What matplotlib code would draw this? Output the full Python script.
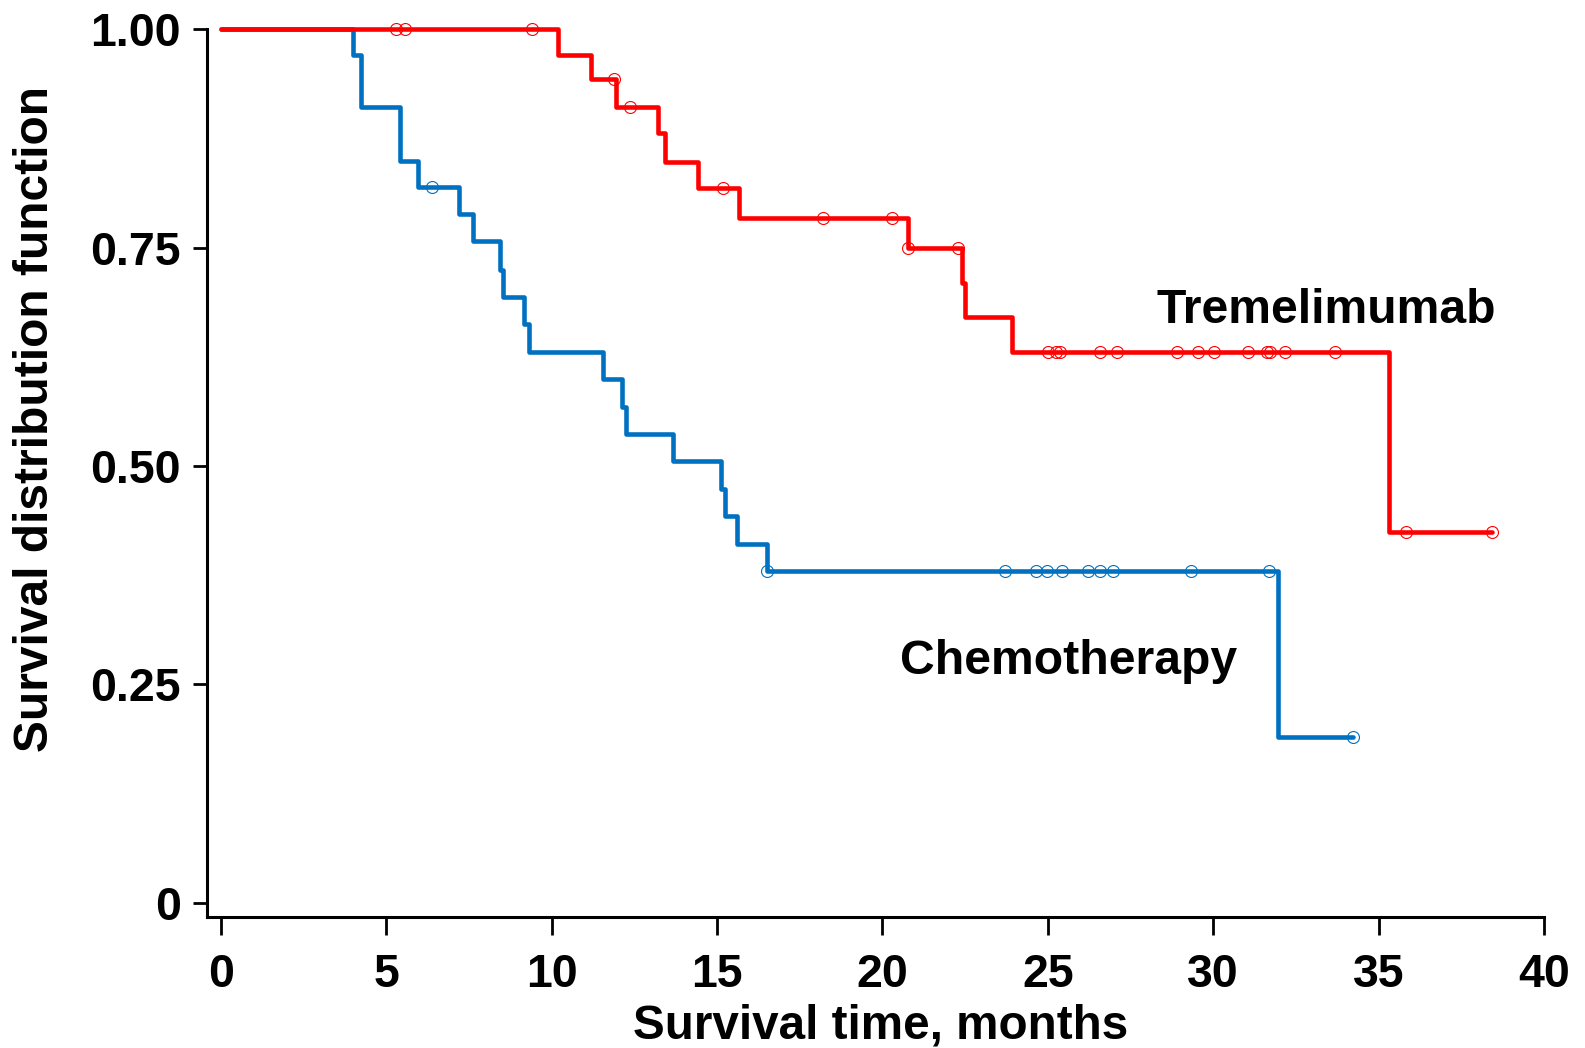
import numpy as np
import matplotlib
matplotlib.use("Agg")
import matplotlib.pyplot as plt

# ---- data ----
chemo_event_times = [4.0, 4.24, 5.41, 5.96, 7.21, 7.62, 8.43, 8.53, 9.17, 9.31,
                     11.56, 12.14, 12.26, 13.67, 15.11, 15.24, 15.59, 16.50, 31.95]
chemo_surv = [0.971, 0.911, 0.849, 0.819, 0.788, 0.757, 0.724, 0.694, 0.663, 0.631,
              0.600, 0.568, 0.537, 0.506, 0.474, 0.443, 0.411, 0.380, 0.190]
chemo_censor = [6.37, 16.50, 23.70, 24.64, 24.96, 25.43, 26.20, 26.57, 26.97,
                29.32, 31.69, 34.23]

trem_event_times = [10.18, 11.19, 11.93, 13.20, 13.42, 14.43, 15.67, 20.78,
                    22.39, 22.51, 23.92, 35.32]
trem_surv = [0.971, 0.943, 0.911, 0.881, 0.848, 0.818, 0.784, 0.749,
             0.709, 0.671, 0.630, 0.424]
trem_censor = [5.29, 5.57, 9.41, 11.89, 12.36, 15.17, 18.19, 20.30, 20.78, 22.27,
               25.01, 25.26, 25.36, 26.59, 27.08, 28.92, 29.54, 30.02, 31.04,
               31.63, 31.73, 32.16, 33.68, 35.84, 38.43]

x_ticks = [0, 5, 10, 15, 20, 25, 30, 35, 40]
y_ticks = [0, 0.25, 0.50, 0.75, 1.00]
y_ticklabels = ["0", "0.25", "0.50", "0.75", "1.00"]

RED = "#FF0000"
BLUE = "#0070C0"
FONT = ["Liberation Sans", "DejaVu Sans"]

plt.rcParams["font.family"] = FONT
plt.rcParams["font.weight"] = "bold"

fig = plt.figure(figsize=(15.85, 10.48), dpi=100)
ax = fig.add_axes([207 / 1585, 131 / 1048, (1544 - 207) / 1585, (917 - 29.3) / 1048])


def km_curve(times, surv, censor):
    end = max(max(times), max(censor))
    xs = [0.0] + list(times) + [end]
    ys = [1.0] + list(surv) + [surv[-1]]
    t = np.asarray(times)
    s = np.concatenate([[1.0], np.asarray(surv)])
    idx = np.searchsorted(t, np.asarray(censor), side="right")
    cy = s[idx]
    return xs, ys, cy


for times, surv, cens, col in [(chemo_event_times, chemo_surv, chemo_censor, BLUE),
                               (trem_event_times, trem_surv, trem_censor, RED)]:
    xs, ys, cy = km_curve(times, surv, cens)
    ax.step(xs, ys, where="post", color=col, lw=3.3, clip_on=False,
            solid_joinstyle="round", solid_capstyle="round", zorder=3)
    ax.plot(cens, cy, ls="none", marker="o", ms=8.6, mfc="none", mec=col,
            mew=0.8, clip_on=False, zorder=4)

ax.set_xlim(-0.42, 40)
ax.set_ylim(-0.0166, 1.0)
ax.set_xticks(x_ticks)
ax.set_xticklabels([str(v) for v in x_ticks])
ax.set_yticks(y_ticks)
ax.set_yticklabels(y_ticklabels)

for side in ["top", "right"]:
    ax.spines[side].set_visible(False)
for side in ["left", "bottom"]:
    ax.spines[side].set_linewidth(2.2)
    ax.spines[side].set_color("black")

ax.tick_params(axis="x", direction="out", length=13, width=2.0, pad=13,
               labelsize=33.5)
ax.tick_params(axis="y", direction="out", length=10, width=2.0, pad=9,
               labelsize=33.5)
for lab in ax.get_xticklabels() + ax.get_yticklabels():
    lab.set_fontweight("bold")

ax.text(28.3, 0.664, "Tremelimumab", fontsize=34.7, fontweight="bold",
        ha="left", va="baseline")
ax.text(20.53, 0.2617, "Chemotherapy", fontsize=34.7, fontweight="bold",
        ha="left", va="baseline")

fig.text(881 / 1585, 9 / 1048, "Survival time, months", fontsize=34.3,
         fontweight="bold", ha="center", va="baseline")
fig.text(36 / 1585, 1 - 419 / 1048, "Survival distribution function",
         fontsize=34.5, fontweight="bold", ha="center", va="center",
         rotation=90)

fig.savefig("out.png", dpi=100, facecolor="white")
